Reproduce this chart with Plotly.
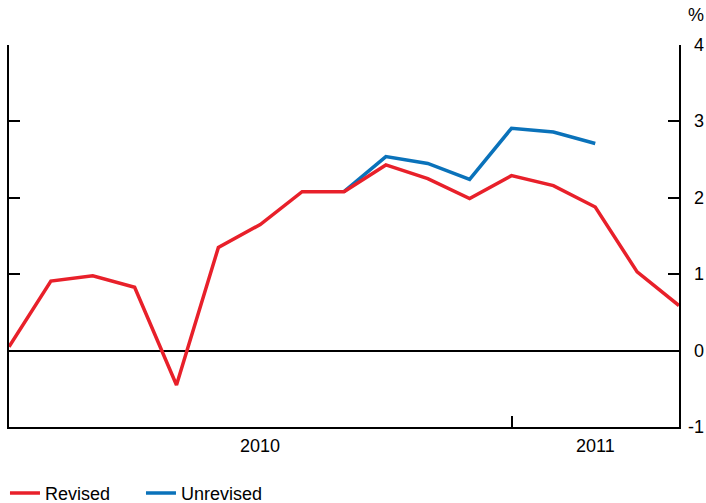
import plotly.graph_objects as go

# quarterly observations, index 0..16
quarters = list(range(17))
revised = [0.05, 0.91, 0.98, 0.83, -0.45, 1.35, 1.65, 2.08, 2.08, 2.43, 2.25,
           1.99, 2.29, 2.16, 1.88, 1.03, 0.59]
unrev_q = [8, 9, 10, 11, 12, 13, 14]
unrevised = [2.08, 2.54, 2.45, 2.24, 2.91, 2.86, 2.71]

y_ticks = [-1, 0, 1, 2, 3, 4]
year_pos = [6, 14]
year_labels = ["2010", "2011"]
year_tick = [12]

RED = "#E8202A"
BLUE = "#0A72BA"
FONT = dict(family="Liberation Sans, Arial, sans-serif", size=18, color="black")

fig = go.Figure()
fig.add_trace(go.Scatter(x=unrev_q, y=unrevised, mode="lines", name="Unrevised",
                         line=dict(color=BLUE, width=3.5)))
fig.add_trace(go.Scatter(x=quarters, y=revised, mode="lines", name="Revised",
                         line=dict(color=RED, width=3.5)))

for xp, lab in zip(year_pos, year_labels):
    fig.add_annotation(x=xp, y=0, xref="x", yref="paper", text=lab,
                       showarrow=False, yanchor="top", yshift=-7, font=FONT)

# right-aligned value labels for the right axis
for v in y_ticks:
    fig.add_annotation(x=1, y=v, xref="paper", yref="y", text=str(v),
                       showarrow=False, xanchor="right", xshift=27, font=FONT)

fig.add_annotation(x=1, y=1, xref="paper", yref="paper", text="%",
                   showarrow=False, xanchor="right", yanchor="bottom",
                   xshift=27, yshift=18, font=FONT)

fig.update_layout(
    width=706, height=503,
    margin=dict(l=9, r=27, t=45, b=76, autoexpand=False),
    plot_bgcolor="white", paper_bgcolor="white",
    font=FONT,
    showlegend=True,
    legend=dict(orientation="h", x=-0.006, y=-0.125, xanchor="left", yanchor="top",
                traceorder="reversed", itemwidth=30, entrywidth=91,
                entrywidthmode="pixels", font=FONT),
    xaxis=dict(range=[0, 16], showgrid=False, zeroline=False,
               showline=True, linecolor="black", linewidth=2,
               tickvals=year_tick, ticktext=[""], ticks="inside",
               ticklen=11, tickwidth=2, tickcolor="black"),
    yaxis=dict(range=[-1, 4], side="right", showgrid=False,
               tickvals=y_ticks, showticklabels=False, ticks="inside", ticklen=11,
               tickwidth=2, tickcolor="black",
               showline=True, linecolor="black", linewidth=2, mirror="ticks",
               zeroline=True, zerolinecolor="black", zerolinewidth=2),
)

# drop the page's default body margin so the figure fills the window
fig.write_html("out.html", config={"displayModeBar": False},
               post_script="document.body.style.margin='0';")
